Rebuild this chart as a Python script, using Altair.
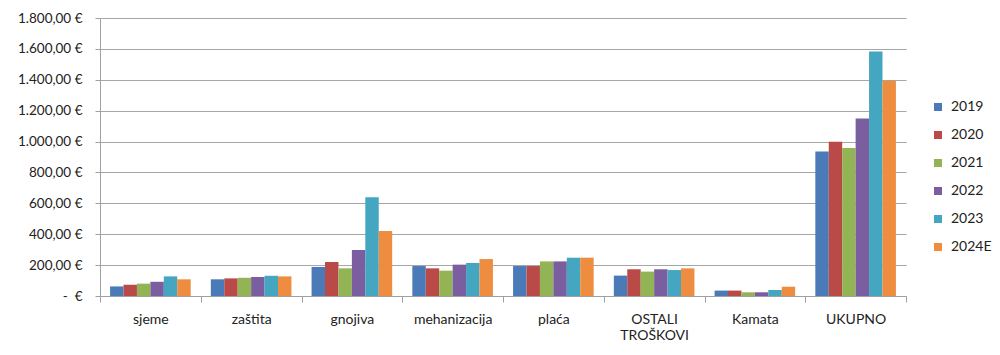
import altair as alt
import pandas as pd

categories = ["sjeme", "zaštita", "gnojiva", "mehanizacija", "plaća", "OSTALI TROŠKOVI", "Kamata", "UKUPNO"]
years = ["2019", "2020", "2021", "2022", "2023", "2024E"]
v2019 = [62, 108, 188, 194, 194, 132, 35, 936]
v2020 = [73, 114, 220, 179, 194, 173, 35, 999]
v2021 = [80, 118, 179, 164, 224, 158, 24, 958]
v2022 = [92, 123, 298, 203, 224, 173, 24, 1150]
v2023 = [127, 131, 639, 214, 248, 168, 39, 1583]
v2024 = [108, 127, 421, 239, 248, 179, 60, 1394]
colors = ["#4A7AB7", "#B94A48", "#93B454", "#7A5EA0", "#44A6C1", "#EE8C3F"]

series = [v2019, v2020, v2021, v2022, v2023, v2024]
rows = []
for y, vals in zip(years, series):
    for c, v in zip(categories, vals):
        rows.append({"kategorija": c, "godina": y, "vrijednost": v})
df = pd.DataFrame(rows)

font = "Lato"

y_label = ("datum.value == 0 ? '-\u00a0\u00a0€' : "
           "replace(replace(replace(format(datum.value, ',.2f'), ',', '#'), '.', ','), '#', '.') + ' €'")

chart = alt.Chart(df).mark_bar().encode(
    x=alt.X("kategorija:N", sort=categories, title=None,
            scale=alt.Scale(paddingInner=0, paddingOuter=0),
            axis=alt.Axis(labelAngle=0, tickBand="extent", tickSize=6, tickColor="#a0a0a0",
                          domainColor="#a0a0a0", labelPadding=10, labelFont=font, labelFontSize=14,
                          labelColor="#222222", labelLineHeight=16,
                          labelExpr="datum.value == 'OSTALI TROŠKOVI' ? ['OSTALI', 'TROŠKOVI'] : datum.value")),
    xOffset=alt.XOffset("godina:N", sort=years,
                        scale=alt.Scale(paddingInner=0, paddingOuter=0.75)),
    y=alt.Y("vrijednost:Q", title=None,
            scale=alt.Scale(domain=[0, 1800], nice=False),
            axis=alt.Axis(values=list(range(0, 1801, 200)), tickSize=5, tickColor="#a0a0a0",
                          domainColor="#a0a0a0", gridColor="#a6a6a6", labelPadding=13,
                          labelFont=font, labelFontSize=13.5, labelColor="#222222",
                          labelExpr=y_label)),
    color=alt.Color("godina:N", sort=years, title=None,
                    scale=alt.Scale(domain=years, range=colors),
                    legend=alt.Legend(orient="none", legendX=831, legendY=82,
                                      symbolType="square", symbolSize=64, symbolStrokeWidth=0,
                                      labelFont=font, labelFontSize=14, labelColor="#222222",
                                      rowPadding=14, labelOffset=6)),
).properties(
    width=806, height=278,
    autosize=alt.AutoSizeParams(type="none"),
    padding={"left": 92, "top": 10, "right": 86, "bottom": 50},
).configure_view(stroke=None).configure_axis(grid=True).configure_axisX(grid=False)

chart.save("out.html", embed_options={"renderer": "svg", "actions": False})
